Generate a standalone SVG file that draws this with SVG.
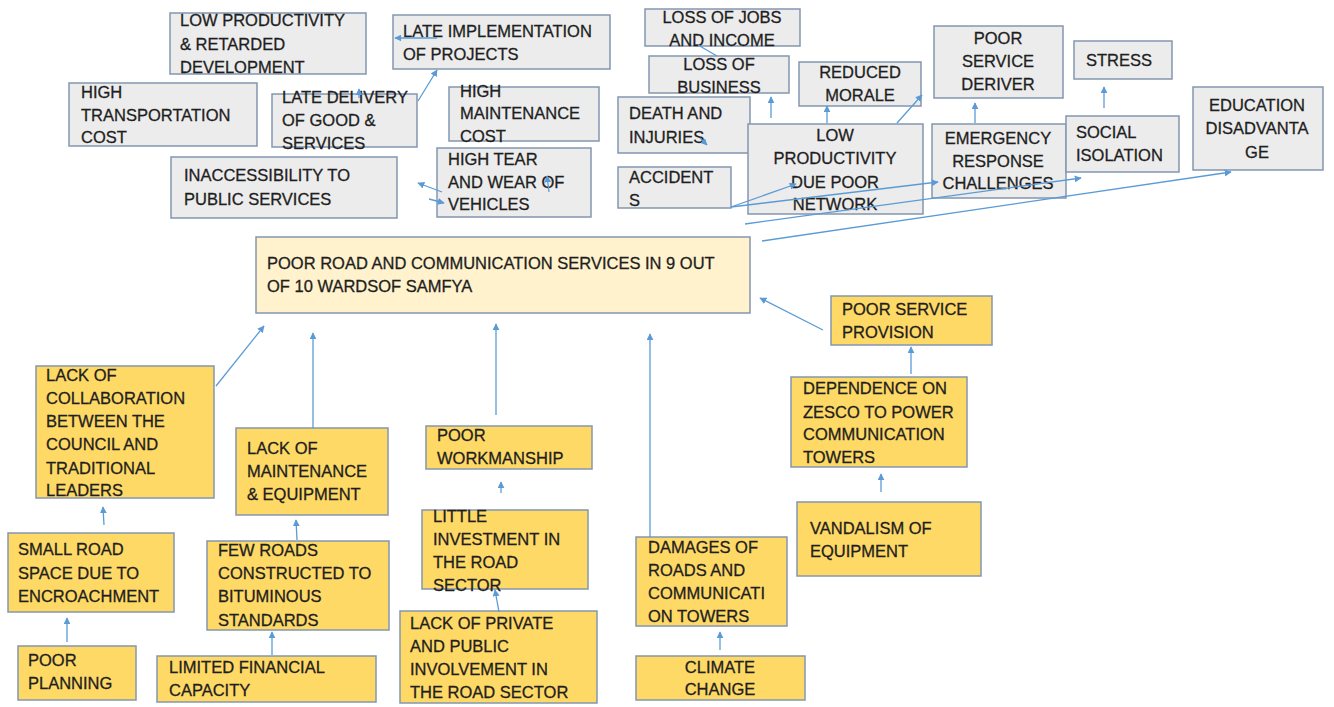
<svg xmlns="http://www.w3.org/2000/svg" width="1334" height="707" viewBox="0 0 1334 707">
  <defs>
    <marker id="arrow" viewBox="0 0 10 10" refX="9" refY="5" markerWidth="7" markerHeight="7" markerUnits="userSpaceOnUse" orient="auto">
      <path d="M0,0 L10,5 L0,10 z" fill="#5b9bd5"/>
    </marker>
    <style>
      .box { stroke: #8496b0; stroke-width: 1.5; }
      .effect { fill: #ececec; }
      .core { fill: #fff2cc; }
      .cause { fill: #ffd966; }
      text { font-family: "Liberation Sans", Arial, sans-serif; font-size: 16.5px; fill: #1e1e1e; stroke: #1e1e1e; stroke-width: 0.3; }
      .mid { text-anchor: middle; }
      .link { stroke: #5b9bd5; stroke-width: 1.3; fill: none; marker-end: url(#arrow); }
      .plain { stroke: #5b9bd5; stroke-width: 1.3; fill: none; }
    </style>
  </defs>
  <rect width="1334" height="707" fill="#ffffff"/>

  <!-- effects (grey) -->
  <g id="n-low-productivity-dev">
    <rect class="box effect" x="170" y="13" width="196" height="61"/>
    <text x="180" y="26">LOW PRODUCTIVITY</text>
    <text x="180" y="50">&amp; RETARDED</text>
    <text x="180" y="73">DEVELOPMENT</text>
  </g>
  <g id="n-late-implementation">
    <rect class="box effect" x="393" y="15" width="217" height="54"/>
    <text x="403" y="37">LATE IMPLEMENTATION</text>
    <text x="403" y="60">OF PROJECTS</text>
  </g>
  <g id="n-high-transport">
    <rect class="box effect" x="69" y="83" width="188" height="63"/>
    <text x="81" y="98">HIGH</text>
    <text x="81" y="121">TRANSPORTATION</text>
    <text x="81" y="143">COST</text>
  </g>
  <g id="n-late-delivery">
    <rect class="box effect" x="272" y="94" width="145" height="53"/>
    <text x="282" y="103">LATE DELIVERY</text>
    <text x="282" y="126">OF GOOD &amp;</text>
    <text x="282" y="149">SERVICES</text>
  </g>
  <g id="n-high-maintenance">
    <rect class="box effect" x="449" y="87" width="150" height="54"/>
    <text x="460" y="97">HIGH</text>
    <text x="460" y="119">MAINTENANCE</text>
    <text x="460" y="142">COST</text>
  </g>
  <g id="n-inaccessibility">
    <rect class="box effect" x="171" y="157" width="226" height="61"/>
    <text x="184" y="181">INACCESSIBILITY TO</text>
    <text x="184" y="205">PUBLIC SERVICES</text>
  </g>
  <g id="n-high-tear">
    <rect class="box effect" x="437" y="148" width="154" height="69"/>
    <text x="448" y="165">HIGH TEAR</text>
    <text x="448" y="188">AND WEAR OF</text>
    <text x="448" y="210">VEHICLES</text>
  </g>
  <g id="n-loss-jobs">
    <rect class="box effect" x="645" y="9" width="155" height="37"/>
    <text class="mid" x="722" y="23">LOSS OF JOBS</text>
    <text class="mid" x="722" y="46">AND INCOME</text>
  </g>
  <g id="n-loss-business">
    <rect class="box effect" x="649" y="56" width="140" height="37"/>
    <text class="mid" x="719" y="70">LOSS OF</text>
    <text class="mid" x="719" y="93">BUSINESS</text>
  </g>
  <g id="n-death-injuries">
    <rect class="box effect" x="618" y="97" width="132" height="56"/>
    <text x="629" y="119">DEATH AND</text>
    <text x="629" y="143">INJURIES</text>
  </g>
  <g id="n-reduced-morale">
    <rect class="box effect" x="799" y="62" width="122" height="44"/>
    <text class="mid" x="860" y="78">REDUCED</text>
    <text class="mid" x="860" y="101">MORALE</text>
  </g>
  <g id="n-poor-service-deriver">
    <rect class="box effect" x="934" y="26" width="129" height="72"/>
    <text class="mid" x="998" y="44">POOR</text>
    <text class="mid" x="998" y="67">SERVICE</text>
    <text class="mid" x="998" y="90">DERIVER</text>
  </g>
  <g id="n-stress">
    <rect class="box effect" x="1074" y="41" width="98" height="38"/>
    <text x="1086" y="66">STRESS</text>
  </g>
  <g id="n-low-productivity-network">
    <rect class="box effect" x="748" y="124" width="175" height="90"/>
    <text class="mid" x="835" y="141">LOW</text>
    <text class="mid" x="835" y="164">PRODUCTIVITY</text>
    <text class="mid" x="835" y="188">DUE POOR</text>
    <text class="mid" x="835" y="210">NETWORK</text>
  </g>
  <g id="n-accidents">
    <rect class="box effect" x="618" y="167" width="113" height="41"/>
    <text x="629" y="183">ACCIDENT</text>
    <text x="629" y="206">S</text>
  </g>
  <g id="n-emergency">
    <rect class="box effect" x="932" y="124" width="134" height="74"/>
    <text class="mid" x="998" y="144">EMERGENCY</text>
    <text class="mid" x="998" y="167">RESPONSE</text>
    <text class="mid" x="998" y="189">CHALLENGES</text>
  </g>
  <g id="n-social-isolation">
    <rect class="box effect" x="1066" y="116" width="113" height="56"/>
    <text x="1076" y="138">SOCIAL</text>
    <text x="1076" y="161">ISOLATION</text>
  </g>
  <g id="n-education">
    <rect class="box effect" x="1193" y="87" width="130" height="83"/>
    <text class="mid" x="1257" y="111">EDUCATION</text>
    <text class="mid" x="1257" y="134">DISADVANTA</text>
    <text class="mid" x="1257" y="158">GE</text>
  </g>

  <!-- core problem -->
  <g id="n-core-problem">
    <rect class="box core" x="256" y="237" width="494" height="76"/>
    <text x="267" y="269">POOR ROAD AND COMMUNICATION SERVICES IN 9 OUT</text>
    <text x="267" y="292">OF 10 WARDSOF SAMFYA</text>
  </g>

  <!-- causes (yellow) -->
  <g id="n-collaboration">
    <rect class="box cause" x="36" y="366" width="178" height="132"/>
    <text x="46" y="381">LACK OF</text>
    <text x="46" y="404">COLLABORATION</text>
    <text x="46" y="427">BETWEEN THE</text>
    <text x="46" y="450">COUNCIL AND</text>
    <text x="46" y="474">TRADITIONAL</text>
    <text x="46" y="496">LEADERS</text>
  </g>
  <g id="n-lack-maintenance">
    <rect class="box cause" x="236" y="428" width="152" height="87"/>
    <text x="247" y="454">LACK OF</text>
    <text x="247" y="477">MAINTENANCE</text>
    <text x="247" y="500">&amp; EQUIPMENT</text>
  </g>
  <g id="n-poor-workmanship">
    <rect class="box cause" x="426" y="426" width="166" height="43"/>
    <text x="437" y="441">POOR</text>
    <text x="437" y="464">WORKMANSHIP</text>
  </g>
  <g id="n-poor-service-provision">
    <rect class="box cause" x="831" y="296" width="161" height="49"/>
    <text x="842" y="315">POOR SERVICE</text>
    <text x="842" y="338">PROVISION</text>
  </g>
  <g id="n-dependence-zesco">
    <rect class="box cause" x="791" y="377" width="176" height="90"/>
    <text x="803" y="394">DEPENDENCE ON</text>
    <text x="803" y="418">ZESCO TO POWER</text>
    <text x="803" y="440">COMMUNICATION</text>
    <text x="803" y="463">TOWERS</text>
  </g>
  <g id="n-small-road-space">
    <rect class="box cause" x="8" y="533" width="166" height="79"/>
    <text x="18" y="555">SMALL ROAD</text>
    <text x="18" y="579">SPACE DUE TO</text>
    <text x="18" y="602">ENCROACHMENT</text>
  </g>
  <g id="n-few-roads">
    <rect class="box cause" x="207" y="541" width="182" height="89"/>
    <text x="218" y="556">FEW ROADS</text>
    <text x="218" y="579">CONSTRUCTED TO</text>
    <text x="218" y="602">BITUMINOUS</text>
    <text x="218" y="626">STANDARDS</text>
  </g>
  <g id="n-little-investment">
    <rect class="box cause" x="422" y="510" width="166" height="79"/>
    <text x="433" y="522">LITTLE</text>
    <text x="433" y="545">INVESTMENT IN</text>
    <text x="433" y="568">THE ROAD</text>
    <text x="433" y="591">SECTOR</text>
  </g>
  <g id="n-damages">
    <rect class="box cause" x="636" y="537" width="151" height="89"/>
    <text x="648" y="553">DAMAGES OF</text>
    <text x="648" y="576">ROADS AND</text>
    <text x="648" y="599">COMMUNICATI</text>
    <text x="648" y="622">ON TOWERS</text>
  </g>
  <g id="n-vandalism">
    <rect class="box cause" x="797" y="502" width="184" height="74"/>
    <text x="810" y="534">VANDALISM OF</text>
    <text x="810" y="557">EQUIPMENT</text>
  </g>
  <g id="n-poor-planning">
    <rect class="box cause" x="18" y="646" width="118" height="54"/>
    <text x="28" y="666">POOR</text>
    <text x="28" y="689">PLANNING</text>
  </g>
  <g id="n-limited-financial">
    <rect class="box cause" x="157" y="656" width="219" height="46"/>
    <text x="169" y="673">LIMITED FINANCIAL</text>
    <text x="169" y="696">CAPACITY</text>
  </g>
  <g id="n-private-public">
    <rect class="box cause" x="400" y="611" width="197" height="92"/>
    <text x="410" y="629">LACK OF PRIVATE</text>
    <text x="410" y="652">AND PUBLIC</text>
    <text x="410" y="675">INVOLVEMENT IN</text>
    <text x="410" y="698">THE ROAD SECTOR</text>
  </g>
  <g id="n-climate-change">
    <rect class="box cause" x="636" y="656" width="169" height="44"/>
    <text class="mid" x="720" y="673">CLIMATE</text>
    <text class="mid" x="720" y="695">CHANGE</text>
  </g>

  <!-- connectors -->
  <g id="connectors">
    <line class="link" x1="437" y1="38" x2="395" y2="38"/>
    <line class="link" x1="418" y1="101" x2="437" y2="70"/>
    <line class="link" x1="359" y1="98" x2="359" y2="89"/>
    <line class="link" x1="442" y1="192" x2="418" y2="183"/>
    <line class="link" x1="429" y1="199" x2="444" y2="203"/>
    <line class="link" x1="549" y1="192" x2="547" y2="176"/>
    <line class="plain" x1="698" y1="45" x2="717" y2="56"/>
    <line class="link" x1="771" y1="118" x2="771" y2="97"/>
    <line class="link" x1="700" y1="138" x2="707" y2="145"/>
    <line class="link" x1="827" y1="123" x2="827" y2="106"/>
    <line class="link" x1="897" y1="123" x2="922" y2="95"/>
    <line class="link" x1="975" y1="123" x2="975" y2="103"/>
    <line class="link" x1="1104" y1="108" x2="1104" y2="87"/>
    <line class="link" x1="731" y1="207" x2="796" y2="184"/>
    <line class="link" x1="731" y1="207" x2="938" y2="182"/>
    <line class="link" x1="745" y1="224" x2="1081" y2="178"/>
    <line class="link" x1="762" y1="241" x2="1231" y2="172"/>

    <line class="link" x1="216" y1="386" x2="264" y2="326"/>
    <line class="link" x1="313" y1="428" x2="313" y2="333"/>
    <line class="link" x1="496" y1="415" x2="496" y2="324"/>
    <line class="link" x1="650" y1="537" x2="650" y2="334"/>
    <line class="link" x1="823" y1="330" x2="760" y2="298"/>
    <line class="link" x1="911" y1="374" x2="911" y2="347"/>
    <line class="link" x1="881" y1="492" x2="881" y2="474"/>
    <line class="link" x1="501" y1="493" x2="501" y2="482"/>
    <line class="link" x1="104" y1="525" x2="103" y2="507"/>
    <line class="link" x1="67" y1="642" x2="67" y2="618"/>
    <line class="link" x1="297" y1="540" x2="296" y2="520"/>
    <line class="link" x1="272" y1="655" x2="272" y2="632"/>
    <line class="link" x1="499" y1="612" x2="495" y2="590"/>
    <line class="link" x1="720" y1="650" x2="720" y2="632"/>
  </g>
</svg>
